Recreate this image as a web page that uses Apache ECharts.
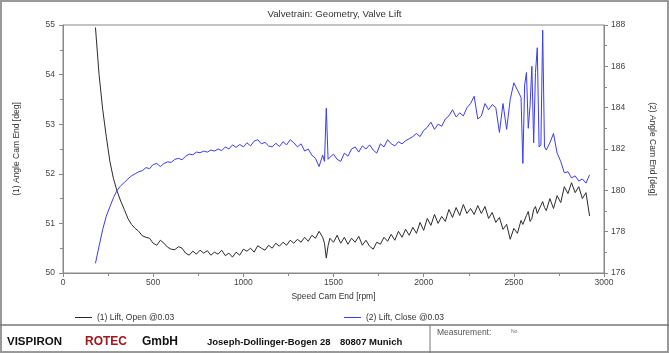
<!DOCTYPE html>
<html>
<head>
<meta charset="utf-8">
<script src="https://cdn.jsdelivr.net/npm/echarts@6/dist/echarts.min.js"></script>
<style>
  html, body { margin: 0; padding: 0; background: #fff; }
  #chart { width: 669px; height: 353px; }
</style>
</head>
<body>
<div id="chart"></div>
<script>
// speed cam end [rpm], shared by both curves
var rpm = [180, 200, 220, 240, 260, 280, 300, 320, 340, 360, 380, 400, 420, 440, 460, 480,
  500, 520, 540, 560, 580, 600, 620, 640, 660, 680, 700, 720, 740, 760, 780, 800,
  820, 840, 860, 880, 900, 920, 940, 960, 980, 1000, 1020, 1040, 1060, 1080, 1100, 1120,
  1140, 1160, 1180, 1200, 1220, 1240, 1260, 1280, 1300, 1320, 1340, 1360, 1380, 1400, 1420, 1440,
  1450, 1460, 1470, 1480, 1500, 1520, 1540, 1560, 1580, 1600, 1620, 1640, 1660, 1680, 1700, 1720,
  1740, 1760, 1780, 1800, 1820, 1840, 1860, 1880, 1900, 1920, 1940, 1960, 1980, 2000, 2020, 2040,
  2060, 2080, 2100, 2120, 2140, 2160, 2180, 2200, 2220, 2240, 2260, 2280, 2300, 2320, 2340, 2360,
  2380, 2400, 2420, 2440, 2460, 2480, 2500, 2520, 2540, 2550, 2560, 2570, 2580, 2590, 2600, 2610,
  2620, 2630, 2640, 2650, 2660, 2670, 2680, 2700, 2720, 2740, 2760, 2780, 2800, 2820, 2840, 2860,
  2880, 2900, 2920];

// (1) Lift, Open @0.03  -> left axis
var liftOpen = [54.95, 54.0, 53.3, 52.75, 52.25, 51.9, 51.65, 51.45, 51.28, 51.1, 50.98, 50.9, 50.84, 50.75, 50.72, 50.7,
  50.6, 50.56, 50.66, 50.6, 50.52, 50.48, 50.47, 50.53, 50.5, 50.4, 50.36, 50.44, 50.38, 50.46, 50.4, 50.45,
  50.36, 50.42, 50.38, 50.46, 50.35, 50.4, 50.32, 50.42, 50.36, 50.48, 50.44, 50.5, 50.42, 50.55, 50.5, 50.46,
  50.56, 50.5, 50.6, 50.54, 50.62, 50.56, 50.66, 50.6, 50.68, 50.62, 50.72, 50.64, 50.76, 50.7, 50.84, 50.72,
  50.6, 50.3, 50.55, 50.7, 50.62, 50.76, 50.6, 50.72, 50.58, 50.7, 50.62, 50.74, 50.56, 50.66, 50.54, 50.48,
  50.62, 50.58, 50.72, 50.64, 50.78, 50.66, 50.84, 50.72, 50.88, 50.76, 50.92, 50.8, 51.02, 50.86, 51.1, 50.96,
  51.18, 51.0, 51.14, 51.04, 51.28, 51.12, 51.32, 51.16, 51.38, 51.2, 51.3, 51.18, 51.36, 51.2, 51.34, 51.1,
  51.22, 51.02, 51.12, 50.88, 50.98, 50.68, 50.9, 50.8, 51.06, 50.98, 50.94, 51.16, 51.24, 51.04, 51.1, 51.28,
  51.34, 51.2, 51.18, 51.36, 51.44, 51.32, 51.26, 51.5, 51.3, 51.56, 51.42, 51.74, 51.6, 51.82, 51.62, 51.74,
  51.5, 51.62, 51.15];

// (2) Lift, Close @0.03 -> right axis
var liftClose = [176.47, 177.3, 178.1, 178.75, 179.2, 179.65, 180.0, 180.22, 180.38, 180.55, 180.7, 180.8, 180.9, 180.95, 181.1, 181.05,
  181.25, 181.3, 181.15, 181.3, 181.38, 181.35, 181.5, 181.55, 181.48, 181.65, 181.75, 181.72, 181.85, 181.82, 181.9, 181.85,
  181.95, 181.9, 182.0, 181.92, 182.1, 182.0, 182.2, 182.08, 182.22, 182.1, 182.3, 182.15, 182.38, 182.45, 182.25, 182.32,
  182.15, 182.1, 182.28, 182.12, 182.35, 182.2, 182.45, 182.3, 182.1, 182.25, 181.9, 182.0, 181.7, 181.55, 181.15, 181.7,
  181.4, 183.97, 181.5, 181.6, 181.75, 181.5, 181.4, 181.8, 181.65, 182.0, 182.1, 181.85, 182.15, 182.0, 182.2, 181.95,
  181.8, 182.25, 182.1, 182.45, 182.25, 182.15, 182.35, 182.25, 182.4, 182.5, 182.6, 182.75, 182.6, 182.9, 183.05, 183.3,
  182.95, 183.2, 183.1, 183.45, 183.6, 183.9, 183.55, 183.75, 183.6, 184.0, 184.2, 184.55, 183.45, 183.6, 184.2, 183.9,
  184.15, 184.0, 182.8, 184.2, 182.95, 184.4, 185.2, 184.85, 184.5, 181.3, 185.1, 185.7, 183.0, 184.1, 186.0, 182.3,
  185.7, 186.9, 182.1, 182.2, 187.75, 182.1, 181.95, 182.3, 182.75, 181.8, 181.4, 180.85, 180.9, 180.6, 180.7, 180.45,
  180.55, 180.35, 180.75];

var xTicks = [0, 500, 1000, 1500, 2000, 2500, 3000];
var leftTicks = [50, 51, 52, 53, 54, 55];
var rightTicks = [176, 178, 180, 182, 184, 186, 188];

var font = '"Liberation Sans", Arial, sans-serif';
var axisCol = '#888';

function pairs(vals) {
  return rpm.map(function (r, i) { return [r, vals[i]]; });
}
function plain(v) { return String(v); }

var myChart = echarts.init(document.getElementById('chart'));
var option = {
  animation: false,
  backgroundColor: '#fff',
  title: {
    text: 'Valvetrain: Geometry, Valve Lift',
    left: 'center',
    top: 4,
    textStyle: { fontSize: 9.7, fontWeight: 'normal', color: '#333', fontFamily: font }
  },
  grid: {
    left: 63, right: 65, top: 25, bottom: 80,
    show: true, borderColor: axisCol, borderWidth: 1
  },
  legend: [
    {
      left: 70, top: 308,
      data: ['(1) Lift, Open @0.03'],
      icon: 'rect', itemWidth: 17, itemHeight: 1,
      textStyle: { fontSize: 8.5, color: '#333', fontFamily: font }
    },
    {
      left: 339, top: 308,
      data: ['(2) Lift, Close @0.03'],
      icon: 'rect', itemWidth: 17, itemHeight: 1,
      textStyle: { fontSize: 8.5, color: '#333', fontFamily: font }
    }
  ],
  xAxis: {
    type: 'value',
    min: xTicks[0], max: xTicks[xTicks.length - 1], interval: 500,
    name: 'Speed Cam End [rpm]',
    nameLocation: 'middle', nameGap: 19,
    nameTextStyle: { fontSize: 8.5, color: '#333', fontFamily: font },
    axisLine: { lineStyle: { color: axisCol } },
    axisTick: { length: 4, lineStyle: { color: axisCol } },
    minorTick: { show: true, splitNumber: 2, length: 3, lineStyle: { color: axisCol } },
    splitLine: { show: false },
    axisLabel: { fontSize: 8.5, color: '#444', margin: 5, fontFamily: font, formatter: plain }
  },
  yAxis: [
    {
      type: 'value', position: 'left',
      min: leftTicks[0], max: leftTicks[leftTicks.length - 1], interval: 1,
      name: '(1) Angle Cam End [deg]',
      nameLocation: 'middle', nameGap: 42, nameRotate: 90,
      nameTextStyle: { fontSize: 8.5, color: '#333', fontFamily: font },
      axisLine: { show: true, lineStyle: { color: axisCol } },
      axisTick: { show: true, length: 4, lineStyle: { color: axisCol } },
      minorTick: { show: true, splitNumber: 2, length: 3, lineStyle: { color: axisCol } },
      splitLine: { show: false },
      axisLabel: { fontSize: 8.5, color: '#444', margin: 8, fontFamily: font, formatter: plain }
    },
    {
      type: 'value', position: 'right',
      min: rightTicks[0], max: rightTicks[rightTicks.length - 1], interval: 2,
      name: '(2) Angle Cam End [deg]',
      nameLocation: 'middle', nameGap: 44, nameRotate: -90,
      nameTextStyle: { fontSize: 8.5, color: '#333', fontFamily: font },
      axisLine: { show: true, lineStyle: { color: axisCol } },
      axisTick: { show: true, length: 4, lineStyle: { color: axisCol } },
      minorTick: { show: true, splitNumber: 2, length: 3, lineStyle: { color: axisCol } },
      splitLine: { show: false },
      axisLabel: { fontSize: 8.5, color: '#444', margin: 7, fontFamily: font, formatter: plain }
    }
  ],
  series: [
    {
      name: '(1) Lift, Open @0.03',
      type: 'line', yAxisIndex: 0,
      data: pairs(liftOpen),
      showSymbol: false,
      color: '#2b2b2b',
      lineStyle: { width: 1, color: '#2b2b2b' }
    },
    {
      name: '(2) Lift, Close @0.03',
      type: 'line', yAxisIndex: 1,
      data: pairs(liftClose),
      showSymbol: false,
      color: '#3c3cf2',
      lineStyle: { width: 1, color: '#3c3cf2' }
    }
  ],
  graphic: [
    { type: 'rect', shape: { x: 1, y: 1, width: 667, height: 351 }, style: { fill: 'none', stroke: '#999', lineWidth: 2 }, silent: true },
    { type: 'line', shape: { x1: 0, y1: 325, x2: 669, y2: 325 }, style: { stroke: '#777', lineWidth: 1.5 }, silent: true },
    { type: 'line', shape: { x1: 430, y1: 325, x2: 430, y2: 353 }, style: { stroke: '#777', lineWidth: 1 }, silent: true },
    { type: 'text', left: 7, top: 336, style: { text: 'VISPIRON', font: 'bold 11.5px "Liberation Sans", Arial', fill: '#111' } },
    { type: 'text', left: 85, top: 336, style: { text: 'ROTEC', font: 'bold 12px "Liberation Sans", Arial', fill: '#a3161a' } },
    { type: 'text', left: 142, top: 336, style: { text: 'GmbH', font: 'bold 12px "Liberation Sans", Arial', fill: '#111' } },
    { type: 'text', left: 207, top: 337, style: { text: 'Joseph-Dollinger-Bogen 28', font: 'bold 9.5px "Liberation Sans", Arial', fill: '#111' } },
    { type: 'text', left: 340, top: 337, style: { text: '80807 Munich', font: 'bold 9.5px "Liberation Sans", Arial', fill: '#111' } },
    { type: 'text', left: 437, top: 328, style: { text: 'Measurement:', font: '8.5px "Liberation Sans", Arial', fill: '#555' } },
    { type: 'text', left: 511, top: 329, style: { text: 'No.', font: '5px "Liberation Sans", Arial', fill: '#777' } }
  ]
};
myChart.setOption(option);
</script>
</body>
</html>
